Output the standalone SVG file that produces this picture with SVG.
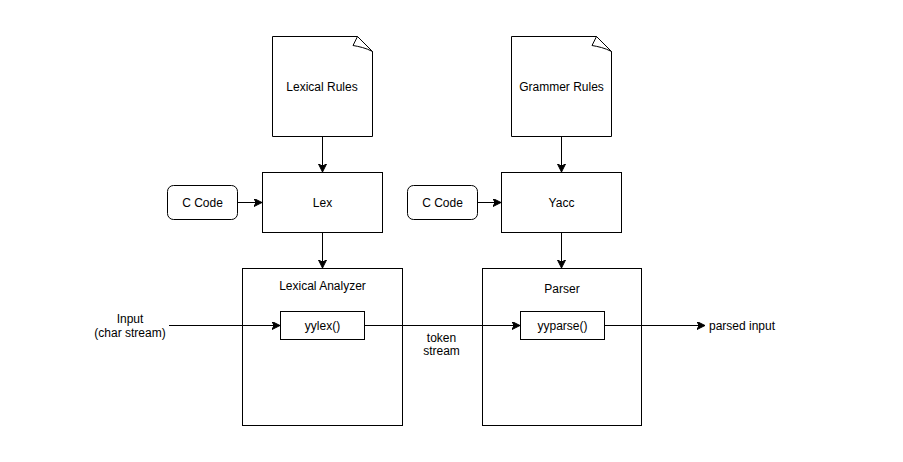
<svg xmlns="http://www.w3.org/2000/svg" width="903" height="462" viewBox="0 0 903 462">
<style>
.s{fill:#fff;stroke:#000;stroke-width:1}
.c{fill:none;stroke:#000;stroke-width:1}
text{font-family:"Liberation Sans",Arial,Helvetica,sans-serif;font-size:12px;fill:#000;text-anchor:middle;dominant-baseline:central}
</style>
<defs>
<marker id="a" markerWidth="10" markerHeight="10" refX="8" refY="4" orient="auto" markerUnits="userSpaceOnUse">
<path d="M0,0 L8,4 L0,8 L2,4 Z" fill="#000" stroke="#000" stroke-width="1"/>
</marker>
</defs>
<rect width="903" height="462" fill="#fff"/>
<g id="lexical-rules">
<path class="s" d="M272.5,36.5 H357.5 L372.5,51.5 V136.5 H272.5 Z"/>
<path class="s" d="M357.5,36.5 L353,45.5 C359,46.5 366,48 372.5,51.5 Z"/>
<text x="322" y="87">Lexical Rules</text>
</g>
<g id="grammer-rules">
<path class="s" d="M511.5,36.5 H596.5 L611.5,51.5 V136.5 H511.5 Z"/>
<path class="s" d="M596.5,36.5 L592,45.5 C598,46.5 605,48 611.5,51.5 Z"/>
<text x="561.5" y="87">Grammer Rules</text>
</g>
<g id="lex">
<rect class="s" x="262.5" y="172.5" width="120" height="60"/>
<text x="322.5" y="202.5">Lex</text>
</g>
<g id="yacc">
<rect class="s" x="501.5" y="172.5" width="120" height="60"/>
<text x="561.5" y="202.5">Yacc</text>
</g>
<g id="c-code-1">
<rect class="s" x="167.5" y="185.5" width="70" height="34" rx="6"/>
<text x="202.5" y="202.5">C Code</text>
</g>
<g id="c-code-2">
<rect class="s" x="407.5" y="185.5" width="70" height="34" rx="6"/>
<text x="442.5" y="202.5">C Code</text>
</g>
<g id="lexical-analyzer">
<rect class="s" x="242.5" y="268.5" width="160" height="157"/>
<text x="322.5" y="286">Lexical Analyzer</text>
</g>
<g id="parser">
<rect class="s" x="482.5" y="268.5" width="159" height="157"/>
<text x="562" y="289">Parser</text>
</g>
<g id="yylex">
<rect class="s" x="280.5" y="311.5" width="84" height="28"/>
<text x="322.5" y="325.5">yylex()</text>
</g>
<g id="yyparse">
<rect class="s" x="520.5" y="311.5" width="84" height="28"/>
<text x="562.5" y="325.5">yyparse()</text>
</g>
<g id="connectors">
<path class="c" d="M322.5,136.5 V172" marker-end="url(#a)"/>
<path class="c" d="M561.5,136.5 V172" marker-end="url(#a)"/>
<path class="c" d="M237.5,202.5 H262" marker-end="url(#a)"/>
<path class="c" d="M477.5,202.5 H501" marker-end="url(#a)"/>
<path class="c" d="M322.5,232.5 V268" marker-end="url(#a)"/>
<path class="c" d="M561.5,232.5 V268" marker-end="url(#a)"/>
<path class="c" d="M169,325.5 H280" marker-end="url(#a)"/>
<path class="c" d="M364.5,325.5 H520" marker-end="url(#a)"/>
<path class="c" d="M604.5,325.5 H705" marker-end="url(#a)"/>
<text x="130" y="319">Input</text>
<text x="130" y="333">(char stream)</text>
<text x="441.5" y="337.5">token</text>
<text x="441.5" y="351">stream</text>
<text x="709" y="325.5" style="text-anchor:start">parsed input</text>
</g>
</svg>
